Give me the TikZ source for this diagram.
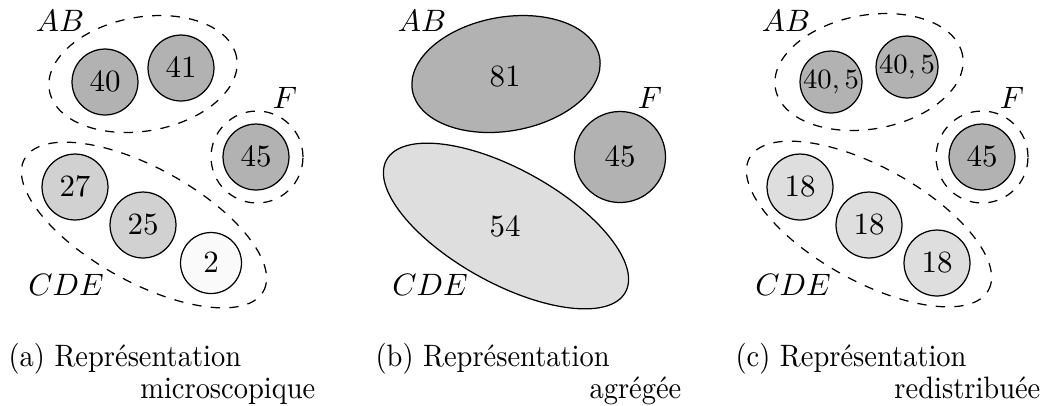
\documentclass[tikz,border=0pt]{standalone}
\usetikzlibrary{shapes.geometric}
\colorlet{darkgrp}{black!30}
\colorlet{lightgrp}{black!18}
\colorlet{palegrp}{black!13}
\newcommand{\captext}[1]{\scalebox{0.92}[1]{#1}}
\begin{document}
\begin{tikzpicture}[x=0.323pt,y=-0.323pt]
    \useasboundingbox (0,0) rectangle (1055,405);
    \tikzset{AgentStyle/.style={circle, draw, minimum size=21.3pt, inner sep=0pt}}
    \tikzset{GroupStyle/.style={ellipse, draw, dashed, minimum width=61.4pt, minimum height=36.8pt, inner sep=0pt}}
    \tikzset{LongGroupStyle/.style={GroupStyle, minimum width=88.2pt}}
    \tikzset{RingStyle/.style={circle, draw, dashed, minimum size=29.7pt, inner sep=0pt}}
    \tikzset{CaptionStyle/.style={inner sep=0pt}}

    % (a) microscopique
    \node[GroupStyle, rotate=10] (aAB) at (143,74) {};
    \node[LongGroupStyle, rotate=-29] (aCDE) at (144,225) {};
    \node[RingStyle] (aF) at (257,157) {};
    \node[AgentStyle, fill=darkgrp] (a40) at (105,82) {$40$};
    \node[AgentStyle, fill=darkgrp] (a41) at (181,68) {$41$};
    \node[AgentStyle, fill=darkgrp] (a45) at (256,157) {$45$};
    \node[AgentStyle, fill=lightgrp] (a27) at (75,187) {$27$};
    \node[AgentStyle, fill=lightgrp] (a25) at (143,225) {$25$};
    \node[AgentStyle, fill=black!2, minimum size=19.7pt] (a2) at (211,263) {$2$};
    \node (aABl) at (60,21) {$AB$};
    \node (aFl) at (285,98) {$F$};
    \node (aCDEl) at (66,285) {$CDE$};

    % (b) agregee
    \node[ellipse, draw, fill=darkgrp, minimum width=61.4pt, minimum height=36.8pt, rotate=10] (bAB) at (506,74) {};
    \node[ellipse, draw, fill=palegrp, minimum width=88.2pt, minimum height=36.8pt, rotate=-29] (bCDE) at (506,226) {};
    \node[AgentStyle, fill=darkgrp, minimum size=29.4pt] (bF) at (620,157) {$45$};
    \node (b81) at (505,77) {$81$};
    \node (b54) at (505,227) {$54$};
    \node (bABl) at (422,21) {$AB$};
    \node (bFl) at (650,98) {$F$};
    \node (bCDEl) at (430,285) {$CDE$};

    % (c) redistribuee
    \node[GroupStyle, rotate=10] (cAB) at (869,72) {};
    \node[LongGroupStyle, rotate=-29] (cCDE) at (869,224) {};
    \node[RingStyle] (cF) at (982,157) {};
    \node[AgentStyle, fill=darkgrp, minimum size=20pt, font=\small] (cA) at (831,82) {$40,5$};
    \node[AgentStyle, fill=darkgrp, minimum size=20pt, font=\small] (cB) at (907,67) {$40,5$};
    \node[AgentStyle, fill=darkgrp] (c45) at (982,157) {$45$};
    \node[AgentStyle, fill=palegrp] (cC) at (800,187) {$18$};
    \node[AgentStyle, fill=palegrp] (cD) at (869,225) {$18$};
    \node[AgentStyle, fill=palegrp] (cE) at (937,263) {$18$};
    \node (cABl) at (786,21) {$AB$};
    \node (cFl) at (1012,98) {$F$};
    \node (cCDEl) at (793,285) {$CDE$};

    % legendes
    \node[CaptionStyle, anchor=base west] (capa) at (8,366) {\captext{(a) Représentation}};
    \node[CaptionStyle, anchor=base east] (capa2) at (316,398) {\captext{microscopique}};
    \node[CaptionStyle, anchor=base west] (capb) at (375,366) {\captext{(b) Représentation}};
    \node[CaptionStyle, anchor=base east] (capb2) at (682,398) {\captext{agrégée}};
    \node[CaptionStyle, anchor=base west] (capc) at (735,366) {\captext{(c) Représentation}};
    \node[CaptionStyle, anchor=base east] (capc2) at (1041,398) {\captext{redistribuée}};
\end{tikzpicture}
\end{document}
